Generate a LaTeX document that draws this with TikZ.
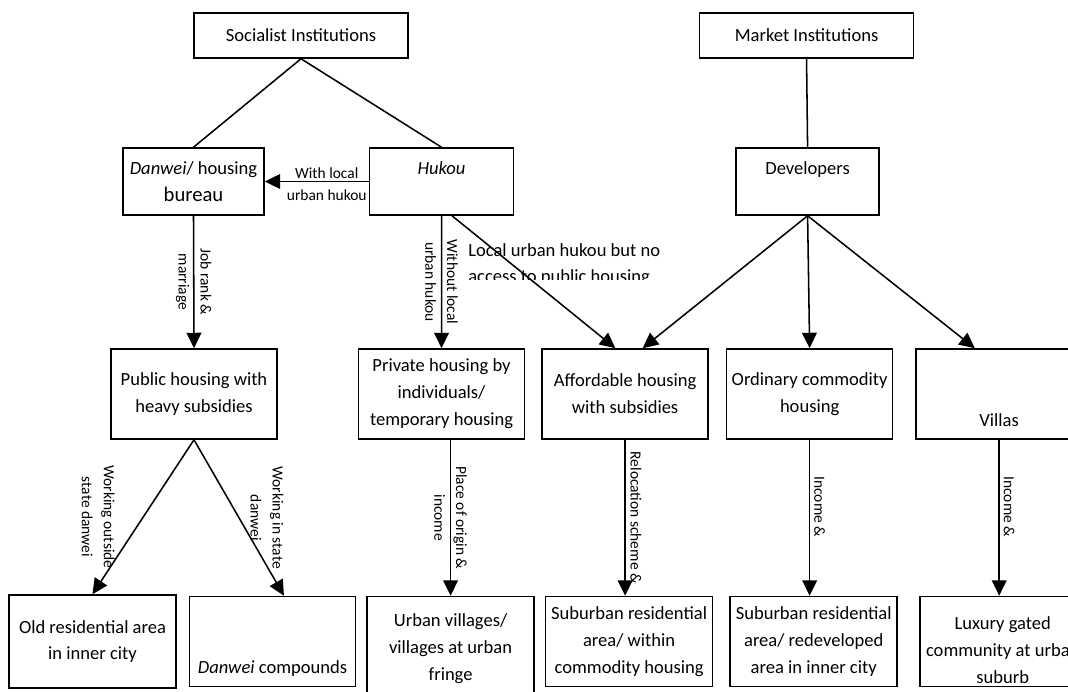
\documentclass[tikz,border=0pt]{standalone}
\usepackage{fontspec}
\setmainfont{Carlito}
\usetikzlibrary{arrows.meta, positioning, calc}

\begin{document}
\begin{tikzpicture}
   [
      box/.style={rectangle, draw, line width=1.1pt, align=center, inner sep=0pt, minimum width=4.15cm, minimum height=2.25cm, font=\fontsize{13.2}{19.1}\selectfont},
      head box/.style={box, minimum width=5.35cm, minimum height=1.125cm},
      agent box/.style={box, minimum height=1.675cm},
      tie/.style={line width=1.1pt},
      flow/.style={line width=1.1pt, -{Triangle[length=11pt, width=10.5pt]}},
      side note/.style={font=\fontsize{11}{15.6}\selectfont, align=center, inner sep=0pt},
      turned note/.style={side note, rotate=-90},
      wide note/.style={font=\fontsize{13.2}{18.5}\selectfont, align=left, inner sep=0pt},
   ]

   \useasboundingbox (0,0) rectangle (26.7,-17.3);

   % =======================================================
   % Institutions and agents
   % =======================================================

   \node[head box] (socialist_inst) at (7.525,-0.8875) {Socialist Institutions};
   \node[head box, right=7.25cm of socialist_inst] (market_inst) {Market Institutions};

   \node[agent box, minimum width=3.525cm] (danwei_bur) at (4.8375,-4.5375) {\textit{Danwei}/ housing\\{\fontsize{14.7}{20}\selectfont bureau}};
   \node[agent box, minimum width=3.6cm, right=2.6cm of danwei_bur] (hukou) {\textit{Hukou}\\\mbox{}};
   \node[agent box, minimum width=3.575cm, right=5.525cm of hukou] (developers) {Developers\\\mbox{}};

   % =======================================================
   % Housing types
   % =======================================================

   \node[box] (public_h) at (4.85,-9.85) {Public housing with\\heavy subsidies};
   \node[box, right=2cm of public_h] (private_h) {Private housing by\\individuals/\\temporary housing};
   \node[box, right=0.4cm of private_h] (afford_h) {Affordable housing\\with subsidies};
   \node[box, right=0.425cm of afford_h] (ordinary_h) {Ordinary commodity\\housing};
   \node[box, right=0.55cm of ordinary_h] (villas_h) {\strut\\\strut\\Villas\strut};

   % =======================================================
   % Residential areas
   % =======================================================

   \node[box, minimum width=4.175cm, minimum height=2.325cm] (old_area) at (2.3125,-16.0375) {Old residential area\\in inner city};
   \node[box, right=0.3cm of old_area] (danwei_comp) {\strut\\\strut\\\textit{Danwei} compounds\strut};
   \node[box, minimum width=4.175cm, minimum height=2.6cm, right=0.25cm of danwei_comp.north east, anchor=north west] (urban_vil) {Urban villages/\\villages at urban\\fringe};
   \node[box, minimum width=4.175cm, right=0.25cm of urban_vil.north east, anchor=north west] (suburb_within) {Suburban residential\\area/ within\\commodity housing};
   \node[box, minimum width=4.175cm, right=0.4cm of suburb_within] (suburb_redev) {Suburban residential\\area/ redeveloped\\area in inner city};
   \node[box, right=0.525cm of suburb_redev] (gated_comm) {\raisebox{-10pt}[0pt][0pt]{\begin{tabular}{@{}c@{}}Luxury gated\\community at urban\\suburb\end{tabular}}};

   % =======================================================
   % Links
   % =======================================================

   \draw[tie] (socialist_inst.south) -- (danwei_bur.north);
   \draw[tie] (socialist_inst.south) -- (hukou.north);
   \draw[tie] (market_inst.south) -- (developers.north);

   \draw[flow] (hukou.west) -- node[side note, xshift=0.25cm, yshift=-0.075cm] {With local\\urban hukou} (danwei_bur.east);
   \draw[flow] (danwei_bur.south) -- node[turned note] {Job rank \&\\marriage} (public_h.north);
   \draw[flow] (hukou.south) -- node[turned note] {Without local\\urban hukou} (private_h.north);
   \draw[flow] (hukou.-73) -- (afford_h.102);

   % label cut off at its lower edge
   \begin{scope}
      \clip (11.5,-5.9) rectangle (17,-6.98);
      \node[wide note, anchor=west] (no_access) at (11.7,-6.625) {Local urban hukou but no\\access to public housing};
   \end{scope}

   \draw[flow] (developers.south) -- (afford_h.69);
   \draw[flow] (developers.south) -- (ordinary_h.north);
   \draw[flow] (developers.south) -- (villas_h.118);

   \draw[flow] (public_h.south) -- node[xshift=-1.125cm, turned note] {Working outside\\state danwei} (old_area.north);
   \draw[flow] (public_h.south) -- node[xshift=0.7cm, turned note] {Working in state\\danwei} (danwei_comp.76);
   \draw[flow] (private_h.south -| urban_vil.north) -- node[turned note] {Place of origin \&\\income} (urban_vil.north);
   \draw[flow] (afford_h.south) -- node[xshift=0.27cm, turned note] {Relocation scheme \&} (afford_h.south |- suburb_within.north);
   \draw[flow] (ordinary_h.south) -- node[pos=0.43, xshift=0.25cm, turned note] {Income \&} (ordinary_h.south |- suburb_redev.north);
   \draw[flow] (villas_h.south) -- node[pos=0.43, xshift=0.25cm, turned note] {Income \&} (villas_h.south |- gated_comm.north);

\end{tikzpicture}
\end{document}
